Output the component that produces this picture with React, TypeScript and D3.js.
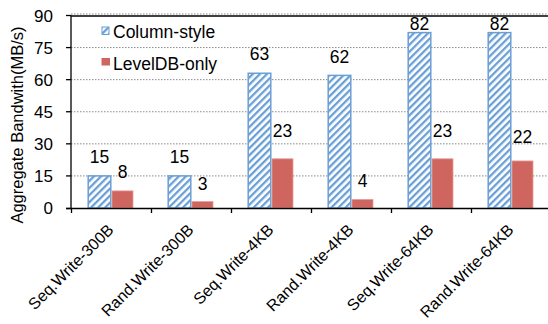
import React from "react";
import * as d3 from "d3";

const categories = [
  "Seq.Write-300B",
  "Rand.Write-300B",
  "Seq.Write-4KB",
  "Rand.Write-4KB",
  "Seq.Write-64KB",
  "Rand.Write-64KB",
];
const seriesNames = ["Column-style", "LevelDB-only"];
const columnStyle = [15, 15, 63, 62, 82, 82];
const levelDBOnly = [8, 3, 23, 4, 23, 22];
const yTicks = [0, 15, 30, 45, 60, 75, 90];

// manual label lifts (px above bar top) as placed in the original figure
const blueLift = [13, 13, 13, 12, 3, 3];
const redLift = [13, 12, 22, 12, 22, 18];

const W = 548;
const H = 324;
const FONT = "'Liberation Sans', Arial, Helvetica, sans-serif";
const BLUE = "#6a9fd6";
const RED = "#cf655f";

export default function App() {
  const x = d3.scaleBand<string>().domain(categories).range([71.5, 551.5]).padding(0);
  const y = d3.scaleLinear().domain([0, 90]).range([208, 15.5]);
  const left = 71;
  const right = 560;
  const bw = x.bandwidth();

  return (
    <svg
      width={W}
      height={H}
      style={{ position: "absolute", left: 0, top: 0, background: "#fff" }}
      fontFamily={FONT}
    >
      <defs>
        <pattern id="hatch" patternUnits="userSpaceOnUse" width="5" height="5" patternTransform="rotate(45)">
          <rect width="5" height="5" fill="#fff" />
          <rect x="0" y="0" width="2.3" height="5" fill={BLUE} />
        </pattern>
      </defs>

      {/* gridlines */}
      {yTicks.filter((t) => t > 0).map((t) => (
        <line
          key={t}
          x1={left}
          x2={right}
          y1={y(t) - (t === 90 ? 1.5 : 0)}
          y2={y(t) - (t === 90 ? 1.5 : 0)}
          stroke="#888"
          strokeWidth={1}
          strokeDasharray="1.5,1.5"
        />
      ))}
      <line x1={left} x2={right} y1={y(90) + 0.5} y2={y(90) + 0.5} stroke="#000" strokeWidth={1.3} />

      {/* bars */}
      {categories.map((c, i) => {
        const cx = (x(c) as number) + bw / 2;
        const b = columnStyle[i];
        const r = levelDBOnly[i];
        return (
          <g key={c}>
            <rect
              x={cx - 23.3}
              y={y(b)}
              width={22.6}
              height={y(0) - y(b)}
              fill="url(#hatch)"
              stroke={BLUE}
              strokeWidth={1.5}
            />
            <rect
              x={cx + 0.5}
              y={y(r)}
              width={21}
              height={y(0) - y(r)}
              fill={RED}
              stroke="#e39e9a"
              strokeWidth={0.8}
            />
            <text x={cx - 12} y={y(b) - blueLift[i]} textAnchor="middle" fontSize={17.5} fill="#000">
              {b}
            </text>
            <text x={cx + 11} y={y(r) - redLift[i]} textAnchor="middle" fontSize={17.5} fill="#000">
              {r}
            </text>
          </g>
        );
      })}

      {/* axes */}
      <line x1={left} x2={left} y1={y(90)} y2={y(0)} stroke="#000" strokeWidth={1.3} />
      <line x1={left - 5} x2={right} y1={y(0) + 0.5} y2={y(0) + 0.5} stroke="#000" strokeWidth={1.5} />
      {yTicks.map((t) => (
        <g key={t}>
          <line x1={left - 5} x2={left} y1={y(t) + (t === 0 ? 0.5 : 0)} y2={y(t) + (t === 0 ? 0.5 : 0)} stroke="#000" strokeWidth={1.3} />
          <text x={53} y={y(t) + 6} textAnchor="end" fontSize={17} fill="#000">
            {t}
          </text>
        </g>
      ))}
      {categories.map((c) => (
        <line
          key={"t" + c}
          x1={x(c) as number}
          x2={x(c) as number}
          y1={y(0)}
          y2={y(0) + 5}
          stroke="#000"
          strokeWidth={1.3}
        />
      ))}
      {categories.map((c) => {
        const cx = (x(c) as number) + bw / 2;
        return (
          <text
            key={"l" + c}
            transform={`translate(${cx + 3},${y(0) + 23}) rotate(-45)`}
            textAnchor="end"
            fontSize={16}
            fill="#000"
          >
            {c}
          </text>
        );
      })}

      {/* y title */}
      <text
        transform={`translate(23,125) rotate(-90)`}
        textAnchor="middle"
        fontSize={16.5}
        fill="#000"
      >
        Aggregate Bandwith(MB/s)
      </text>

      {/* legend */}
      <rect x={102} y={27} width={7} height={7.5} fill="url(#hatch)" stroke={BLUE} strokeWidth={1} />
      <text x={113} y={38} fontSize={17.5} fill="#000">
        {seriesNames[0]}
      </text>
      <rect x={101.5} y={58} width={8.5} height={7.5} fill={RED} />
      <text x={113} y={69.5} fontSize={17.5} fill="#000">
        {seriesNames[1]}
      </text>
    </svg>
  );
}
